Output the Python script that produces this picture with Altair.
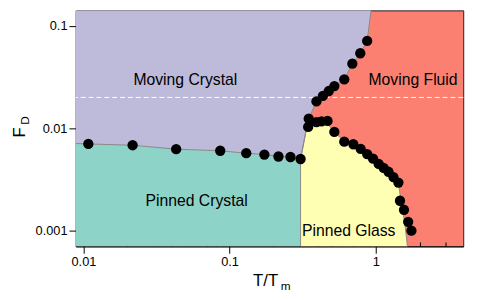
import altair as alt
import pandas as pd

# ---- axis domains and ticks ----
x_domain = [0.00887, 3.97]
y_domain = [0.000703, 0.1416]
x_major = [0.01, 0.1, 1]
y_major = [0.001, 0.01, 0.1]
x_minor = [0.02, 0.03, 0.04, 0.05, 0.06, 0.07, 0.08, 0.09,
           0.2, 0.3, 0.4, 0.5, 0.6, 0.7, 0.8, 0.9, 2, 3]
y_minor = [0.0008, 0.0009, 0.002, 0.003, 0.004, 0.005, 0.006, 0.007, 0.008, 0.009,
           0.02, 0.03, 0.04, 0.05, 0.06, 0.07, 0.08, 0.09]

# ---- measured points ----
crystal_x = [0.0108, 0.0217, 0.0431, 0.0863, 0.130, 0.173, 0.216, 0.261, 0.306]
crystal_y = [0.00703, 0.00683, 0.00625, 0.00603, 0.00571, 0.00554, 0.00530, 0.00524, 0.00501]

melt_x = [0.393, 0.435, 0.477, 0.521, 0.609, 0.692, 0.784, 0.874]
melt_y = [0.0183, 0.0207, 0.0231, 0.0258, 0.0300, 0.0427, 0.0540, 0.0713]

glass_x = [0.345, 0.348, 0.393, 0.426, 0.468, 0.521, 0.609, 0.703, 0.789, 0.874,
           0.959, 1.047, 1.132, 1.223, 1.322, 1.429, 1.466, 1.561, 1.667, 1.755]
glass_y = [0.0103, 0.0124, 0.0115, 0.0117, 0.0118, 0.00922, 0.0074, 0.00698, 0.00629, 0.0056,
           0.00505, 0.00449, 0.00411, 0.00376, 0.00334, 0.00295, 0.00196, 0.0016, 0.00122, 0.0010]

# ---- phase boundaries ----
mc_x = [0.00887] + crystal_x + [0.336, 0.348] + melt_x + [0.935]
mc_y = [0.0071] + crystal_y + [0.00993, 0.0124] + melt_y + [0.152]

pc_x = [0.00887] + crystal_x
pc_y = [0.0071] + crystal_y

pg_x = [0.306, 0.336, 0.345, 0.393, 0.468, 0.521, 0.609, 0.703, 0.789, 0.874,
        0.959, 1.047, 1.132, 1.223, 1.322, 1.429, 1.50, 1.58, 1.668]
pg_y = [0.00501, 0.00993, 0.0103, 0.0110, 0.0110, 0.00922, 0.0074, 0.00698, 0.00629, 0.0056,
        0.00505, 0.00449, 0.00411, 0.00376, 0.00334, 0.00295, 0.0018, 0.0012, 0.0006]

wall_x = [0.306, 0.306]
wall_y = [0.00501, 0.0006]

# ---- labels ----
label_text = ["Moving Crystal", "Moving Fluid", "Pinned Crystal", "Pinned Glass"]
label_x = [0.0498, 1.80, 0.0595, 0.653]
label_y = [0.0295, 0.0295, 0.00196, 0.00100]
dash_y = [0.02]

W, H = 394, 240
FONT = "Liberation Sans"
COL_MC, COL_MF, COL_PC, COL_PG = "#BEBADA", "#FB8072", "#8DD3C7", "#FFFFB3"
EDGE = "#8a8a8a"

xs = alt.Scale(type="log", domain=x_domain, nice=False, padding=0)
ys = alt.Scale(type="log", domain=y_domain, nice=False, padding=0)

main_x_axis = alt.Axis(values=x_major, format="~g", tickSize=7, tickColor="black",
                       domainColor="black", labelFontSize=13, labelFont=FONT,
                       labelColor="black", labelPadding=2, grid=False, title=None,
                       labelFlush=False)
main_y_axis = alt.Axis(values=y_major, format="~g", tickSize=7, tickColor="black",
                       domainColor="black", labelFontSize=13, labelFont=FONT,
                       labelColor="black", labelPadding=2, grid=False, title=None,
                       labelFlush=False)

x_test = "indexof([0.01, 0.1, 1], datum.value) >= 0"
y_test = "indexof([0.001, 0.01, 0.1], datum.value) >= 0"
inner_x_axis = alt.Axis(orient="top", offset=-H, values=x_major + x_minor, labels=False,
                        domain=False, grid=False, title=None, tickColor="black",
                        tickSize={"condition": {"test": x_test, "value": 7}, "value": 4.5})
inner_y_axis = alt.Axis(orient="right", offset=-W, values=y_major + y_minor, labels=False,
                        domain=False, grid=False, title=None, tickColor="black",
                        tickSize={"condition": {"test": y_test, "value": 7}, "value": 4.5})


def region(xv, yv, edge, color, xaxis=None, yaxis=None):
    df = pd.DataFrame({"px": xv, "py": yv})
    return alt.Chart(df).mark_area(color=color, clip=True, opacity=1).encode(
        x=alt.X("px:Q", scale=xs, axis=xaxis),
        y=alt.Y("py:Q", scale=ys, axis=yaxis),
        y2=alt.datum(edge),
    )


def edge_line(xv, yv):
    df = pd.DataFrame({"px": xv, "py": yv, "k": list(range(len(xv)))})
    return alt.Chart(df).mark_line(color=EDGE, strokeWidth=1, clip=True).encode(
        x=alt.X("px:Q", scale=xs, axis=None),
        y=alt.Y("py:Q", scale=ys, axis=None),
        order="k:Q",
    )


mc = region(mc_x, mc_y, 1.0, COL_MC, main_x_axis, main_y_axis)
pc = region(pc_x, pc_y, 0.0001, COL_PC)
pg = region(pg_x, pg_y, 0.0001, COL_PG)

lines = [edge_line(mc_x, mc_y), edge_line(pg_x, pg_y), edge_line(wall_x, wall_y)]

dash = alt.Chart(pd.DataFrame({"py": dash_y})).mark_rule(
    color="white", strokeDash=[5, 3], strokeWidth=1
).encode(y=alt.Y("py:Q", scale=ys, axis=None))

pts_df = pd.DataFrame({
    "px": crystal_x + melt_x + glass_x,
    "py": crystal_y + melt_y + glass_y,
})
pts = alt.Chart(pts_df).mark_circle(size=110, color="black", opacity=1).encode(
    x=alt.X("px:Q", scale=xs, axis=None),
    y=alt.Y("py:Q", scale=ys, axis=None),
)

labels = alt.Chart(pd.DataFrame({"t": label_text, "px": label_x, "py": label_y})).mark_text(
    font=FONT, fontSize=16, color="black", align="center", baseline="middle"
).encode(
    x=alt.X("px:Q", scale=xs, axis=None),
    y=alt.Y("py:Q", scale=ys, axis=None),
    text="t:N",
)

ticks_layer = alt.Chart(pd.DataFrame({"px": [1.0], "py": [0.01]})).mark_point(opacity=0).encode(
    x=alt.X("px:Q", scale=xs, axis=inner_x_axis),
    y=alt.Y("py:Q", scale=ys, axis=inner_y_axis),
)

one = pd.DataFrame({"a": [0]})
t_title = alt.Chart(one).mark_text(text="T/T", font=FONT, fontSize=17, color="black",
                                   align="center", baseline="middle").encode(
    x=alt.value(193), y=alt.value(275))
t_sub = alt.Chart(one).mark_text(text="m", font=FONT, fontSize=12, color="black",
                                 align="center", baseline="middle").encode(
    x=alt.value(213.5), y=alt.value(280))
f_title = alt.Chart(one).mark_text(text="F", font=FONT, fontSize=17, color="black", angle=270,
                                   align="center", baseline="middle").encode(
    x=alt.value(-57), y=alt.value(124))
f_sub = alt.Chart(one).mark_text(text="D", font=FONT, fontSize=12, color="black", angle=270,
                                 align="center", baseline="middle").encode(
    x=alt.value(-51.5), y=alt.value(112))

chart = alt.layer(
    mc, pc, pg, *lines, dash, pts, labels, ticks_layer, t_title, t_sub, f_title, f_sub
).resolve_axis(
    x="independent", y="independent"
).properties(
    width=W, height=H,
    autosize=alt.AutoSizeParams(type="none"),
    padding={"left": 69, "top": 0, "right": 14, "bottom": 44},
).configure_view(
    fill=COL_MF, stroke="#222222", strokeWidth=1
)

chart.save("out.html", embed_options={"renderer": "svg", "actions": False})
